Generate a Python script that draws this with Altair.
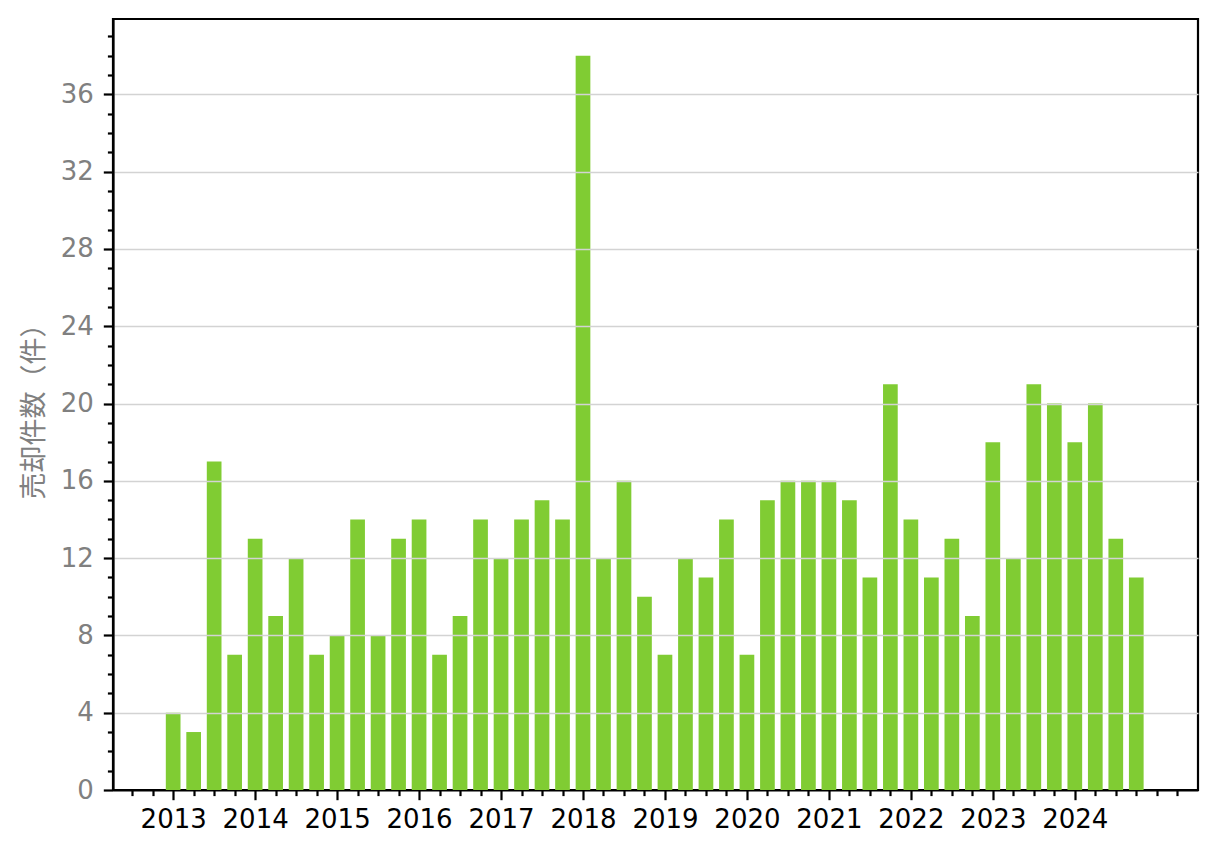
import altair as alt
import pandas as pd

years = [2013, 2014, 2015, 2016, 2017, 2018, 2019, 2020, 2021, 2022, 2023, 2024]
quarters = [1, 2, 3, 4]
counts = [
    4, 3, 17, 7,
    13, 9, 12, 7,
    8, 14, 8, 13,
    14, 7, 9, 14,
    12, 14, 15, 14,
    38, 12, 16, 10,
    7, 12, 11, 14,
    7, 15, 16, 16,
    16, 15, 11, 21,
    14, 11, 13, 9,
    18, 12, 21, 20,
    18, 20, 13, 11,
]
y_title = "売却件数（件）"

rows = []
i = 0
for yr in years:
    for q in quarters:
        rows.append({"year": yr, "quarter": q, "count": counts[i]})
        i += 1
df = pd.DataFrame(rows)

x_tick_values = [2012.5 + 0.25 * k for k in range(52)]
y_tick_values = list(range(0, 40))

FONT = "Noto Sans CJK JP"
NUMFONT = "DejaVu Sans"
FS = 27
LFS = 26

major_x = "datum.value % 1 === 0 && datum.value >= 2013 && datum.value <= 2024"

x_axis = alt.Axis(
    values=x_tick_values,
    labelExpr=f"({major_x}) ? format(datum.value, 'd') : ''",
    tickSize={"condition": {"test": major_x, "value": 9.7}, "value": 5.6},
    tickColor="black",
    tickWidth=2.2,
    domainColor="black",
    domainWidth=2.2,
    labelColor="black",
    labelFont=NUMFONT,
    labelFontSize=LFS,
    labelPadding=7,
    labelOverlap=False,
    labelFlush=False,
    labelBound=False,
    grid=False,
    title=None,
)

y_axis = alt.Axis(
    values=y_tick_values,
    labelExpr="datum.value % 4 === 0 ? datum.label : ''",
    tickSize={"condition": {"test": "datum.value % 4 === 0", "value": 9.7}, "value": 5.6},
    tickColor="black",
    tickWidth=2.2,
    domainColor="black",
    domainWidth=2.2,
    labelColor="#808080",
    labelFont=NUMFONT,
    labelFontSize=LFS,
    labelPadding=10,
    labelOverlap=False,
    labelFlush=False,
    labelBound=False,
    grid=True,
    gridColor="#d3d3d3",
    gridWidth=1.6,
    gridOpacity={"condition": {"test": "datum.value % 4 === 0 && datum.value > 0", "value": 1}, "value": 0},
    title=y_title,
    titleColor="#808080",
    titleFont=FONT,
    titleFontSize=FS,
    titleFontWeight="normal",
    titlePadding=12,
    zindex=1,
)

chart = (
    alt.Chart(df)
    .transform_calculate(t="datum.year + (datum.quarter - 1) / 4")
    .mark_bar(size=14.7, color="#80cc33")
    .encode(
        x=alt.X("t:Q", scale=alt.Scale(domain=[2012.327, 2025.442], nice=False, zero=False), axis=x_axis),
        y=alt.Y("count:Q", scale=alt.Scale(domain=[0, 39.9], nice=False), axis=y_axis),
    )
    .properties(width=1085, height=771, padding={"left": 12, "top": 11, "right": 5, "bottom": 5})
    .configure_view(stroke="black", strokeWidth=2.2)
)

chart.save("out.html", embed_options={"renderer": "svg", "actions": False})
